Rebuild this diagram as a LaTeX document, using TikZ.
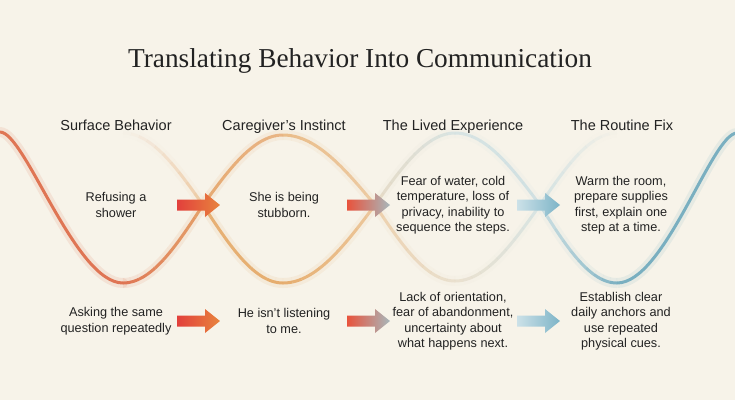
\documentclass[tikz,border=0pt]{standalone}
\usepackage{fontspec}
\setmainfont{Liberation Sans}
\newfontfamily\titlefont{Liberation Serif}
\definecolor{bg}{HTML}{F7F3E9}
\definecolor{ink}{HTML}{222222}
\definecolor{wred}{HTML}{DD6A47}
\definecolor{worange}{HTML}{E4A35C}
\definecolor{wpink}{HTML}{E9B9A0}
\definecolor{wblue}{HTML}{6EA9BD}
\definecolor{wlblue}{HTML}{A8CEDC}
\definecolor{ared}{HTML}{E2403C}
\definecolor{ared2}{HTML}{E8533C}
\definecolor{aorange}{HTML}{E8843E}
\definecolor{aorange2}{HTML}{E9A050}
\definecolor{agray}{HTML}{A8B8BC}
\definecolor{ablue1}{HTML}{CCE1E8}
\definecolor{ablue2}{HTML}{7DB4C7}
\usetikzlibrary{calc}
% quarter wave segment: #1 extreme x, #2 crossing x, #3 signed amplitude,
% #4 colour at extreme, #5 colour at crossing, #6 opacity at extreme, #7 opacity at crossing
\newcommand\qseg[7]{%
  \foreach \i in {0,...,9}{%
    \pgfmathsetmacro\xs{#1+(#2-#1)*\i/10}%
    \pgfmathsetmacro\xe{#1+(#2-#1)*(\i+1)/10}%
    \pgfmathsetmacro\op{#6+(#7-#6)*(\i+0.5)/10}%
    \pgfmathsetmacro\opg{0.13*\op}%
    \pgfmathtruncatemacro\pc{100-100*(\i+0.5)/10}%
    \draw[glowline, color=#4!\pc!#5, opacity=\opg]
      plot[domain=\xs:\xe, samples=6] (\x,{205+#3*cos(90*(\x-#1)/(#2-#1))});
    \draw[waveline, color=#4!\pc!#5, opacity=\op]
      plot[domain=\xs:\xe, samples=6] (\x,{205+#3*cos(90*(\x-#1)/(#2-#1))});
  }}
% block arrow: #1 name, #2 left x, #3 y, #4 left colour, #5 middle colour, #6 right colour
\newcommand\barrow[6]{%
  \coordinate (#1) at (#2,#3);
  \shade[left color=#4, middle color=#5, right color=#6]
    ($(#1)+(0,-5.5)$) -- ++(28,0) -- ++(0,-6.5) -- ++(15,12) -- ++(-15,12)
    -- ++(0,-6.5) -- ++(-28,0) -- cycle;
}
\tikzset{
  waveline/.style={line width=3pt, line cap=butt},
  glowline/.style={line width=10pt, line cap=butt},
  title/.style={font=\titlefont\fontsize{27.3}{31}\selectfont, text=ink, anchor=base, inner sep=0},
  head/.style={font=\fontsize{14.5}{17}\selectfont, text=ink, anchor=base, inner sep=0},
  body/.style={font=\fontsize{12.7}{15.5}\selectfont, text=ink, align=center, inner sep=0}
}
\begin{document}
\begin{tikzpicture}[x=1pt, y=-1pt]
\fill[bg] (0,0) rectangle (735,400);
\useasboundingbox (0,0) rectangle (735,400);
% outer ends of the strong waves
\coordinate (wl0) at (0,132);
\coordinate (wl1) at (123,283);
\coordinate (wr0) at (617,283);
\coordinate (wr1) at (737,133);
\draw[glowline, wred, opacity=0.12, line cap=round] (wl0) .. controls (25,132) and (75,283) .. (wl1);
\draw[waveline, wred, opacity=0.9] (wl0) .. controls (25,132) and (75,283) .. (wl1);
\draw[glowline, wblue, opacity=0.12] (wr0) .. controls (665,283) and (712,133) .. (wr1);
\draw[waveline, wblue, opacity=0.9] (wr0) .. controls (665,283) and (712,133) .. (wr1);
% wave A
\qseg{123}{203}{78}{wred}{worange!75!wred}{0.9}{0.85}
\qseg{283}{203}{-70}{worange}{worange!85!wred}{0.65}{0.8}
\qseg{283}{375}{-70}{worange}{worange}{0.65}{0.45}
\qseg{455}{375}{76}{wlblue!40!worange}{worange}{0.25}{0.4}
\qseg{455}{540}{76}{wlblue!40!worange}{wlblue}{0.25}{0.35}
\qseg{617}{540}{-72}{wlblue}{wlblue}{0.0}{0.4}
% wave B
\qseg{123}{203}{-72}{wpink}{worange}{0.0}{0.45}
\qseg{283}{203}{78}{worange}{worange}{0.85}{0.8}
\qseg{283}{375}{78}{worange}{worange}{0.85}{0.5}
\qseg{455}{375}{-72}{wlblue}{worange!60!wlblue}{0.35}{0.35}
\qseg{455}{540}{-72}{wlblue}{wlblue}{0.35}{0.45}
\qseg{617}{540}{78}{wblue}{wlblue}{0.9}{0.5}
% arrows
\barrow{ar1a}{177}{205}{ared}{ared!50!aorange}{aorange}
\barrow{ar1b}{347}{205}{ared2}{aorange2}{agray}
\barrow{ar1c}{517}{205}{ablue1}{ablue1!50!ablue2}{ablue2}
\barrow{ar2a}{177}{321}{ared}{ared!50!aorange}{aorange}
\barrow{ar2b}{347}{321}{ared2}{aorange2}{agray}
\barrow{ar2c}{517}{321}{ablue1}{ablue1!50!ablue2}{ablue2}
% title and headers
\node[title] (t) at (360,67) {Translating Behavior Into Communication};
\node[head] (h1) at (116,130) {Surface Behavior};
\node[head] (h2) at (284,130) {Caregiver’s Instinct};
\node[head] (h3) at (453,130) {The Lived Experience};
\node[head] (h4) at (622,130) {The Routine Fix};
% row 1
\node[body] (r1a) at (116,205) {Refusing a\\shower};
\node[body] (r1b) at (284,205) {She is being\\stubborn.};
\node[body] (r1c) at (453,205) {Fear of water, cold\\temperature, loss of\\privacy, inability to\\sequence the steps.};
\node[body] (r1d) at (621,205) {Warm the room,\\prepare supplies\\first, explain one\\step at a time.};
% row 2
\node[body] (r2a) at (116,321) {Asking the same\\question repeatedly};
\node[body] (r2b) at (284,321) {He isn’t listening\\to me.};
\node[body] (r2c) at (453,321) {Lack of orientation,\\fear of abandonment,\\uncertainty about\\what happens next.};
\node[body] (r2d) at (621,321) {Establish clear\\daily anchors and\\use repeated\\physical cues.};
\end{tikzpicture}
\end{document}
